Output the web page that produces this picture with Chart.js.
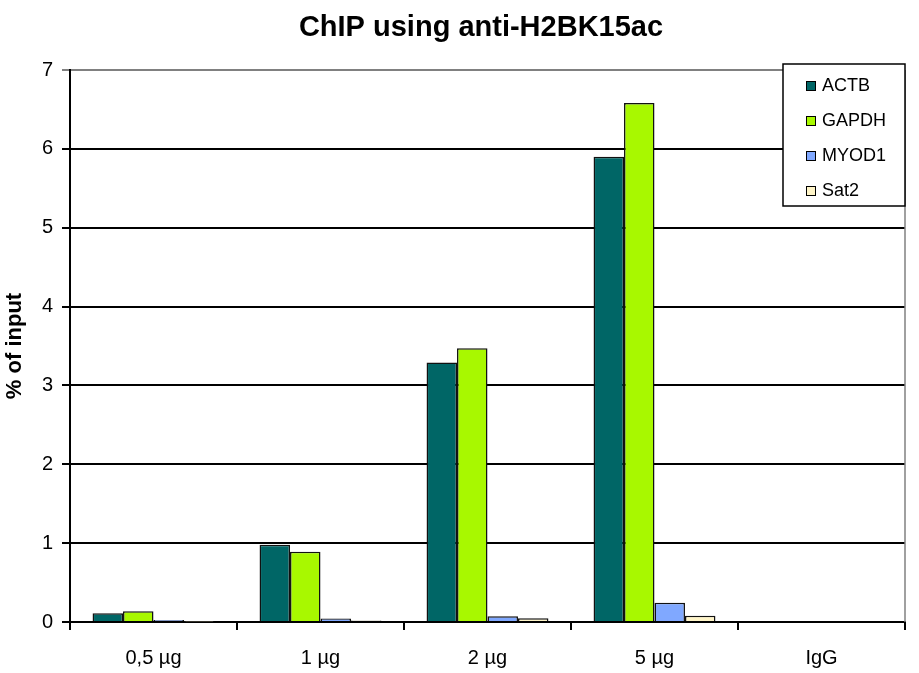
<!DOCTYPE html>
<html>
<head>
<meta charset="utf-8">
<script src="https://cdn.jsdelivr.net/npm/chart.js@4/dist/chart.umd.min.js"></script>
<style>
  html, body { margin: 0; padding: 0; background: #fff; }
  #wrap { width: 919px; height: 673px; }
</style>
</head>
<body>
<div id="wrap"><canvas id="c" width="919" height="673"></canvas></div>
<script>
const categories = ["0,5 µg", "1 µg", "2 µg", "5 µg", "IgG"];
const seriesNames = ["ACTB", "GAPDH", "MYOD1", "Sat2"];
const actb  = [0.11, 0.98, 3.29, 5.90, 0];
const gapdh = [0.135, 0.89, 3.47, 6.58, 0];
const myod1 = [0.025, 0.043, 0.072, 0.245, 0];
const sat2  = [0.004, 0.02, 0.047, 0.08, 0];
const yTicks = [0, 1, 2, 3, 4, 5, 6, 7];
const titleText = "ChIP using anti-H2BK15ac";
const yTitleText = "% of input";

const colors = ["#006666", "#A8F800", "#80A8FF", "#FFF5C8"];
const FONT = "'Liberation Sans', Arial, sans-serif";

const chartTitle = {
  id: 'chartTitle',
  afterDraw(chart) {
    const ctx = chart.ctx;
    ctx.save();
    ctx.font = "bold 29px " + FONT;
    ctx.fillStyle = '#000';
    ctx.textAlign = 'center';
    ctx.textBaseline = 'alphabetic';
    ctx.fillText(titleText, 481, 36);
    ctx.restore();
  }
};

const legendBox = {
  id: 'legendBox',
  afterDraw(chart) {
    const ctx = chart.ctx;
    const ca = chart.chartArea;
    const right = ca.right, left = right - 122, top = 64, bottom = 206;
    ctx.save();
    ctx.fillStyle = '#fff';
    ctx.fillRect(left, top, right - left, bottom - top);
    ctx.strokeStyle = '#000';
    ctx.lineWidth = 1.5;
    ctx.strokeRect(left, top, right - left, bottom - top);
    ctx.font = "18px " + FONT;
    ctx.textBaseline = 'middle';
    ctx.textAlign = 'left';
    chart.data.datasets.forEach((ds, i) => {
      const cy = 86 + i * 35;
      ctx.fillStyle = ds.backgroundColor;
      ctx.fillRect(left + 23, cy - 5, 10, 10);
      ctx.strokeStyle = '#000';
      ctx.lineWidth = 1;
      ctx.strokeRect(left + 23.5, cy - 4.5, 9, 9);
      ctx.fillStyle = '#000';
      ctx.fillText(ds.label, left + 39, cy);
    });
    ctx.restore();
  }
};

const plotBorder = {
  id: 'plotBorder',
  beforeDatasetsDraw(chart) {
    const ctx = chart.ctx;
    const ca = chart.chartArea;
    ctx.save();
    ctx.strokeStyle = '#808080';
    ctx.lineWidth = 1.5;
    ctx.beginPath();
    ctx.moveTo(ca.right, ca.top);
    ctx.lineTo(ca.right, ca.bottom);
    ctx.stroke();
    ctx.restore();
  }
};

new Chart(document.getElementById('c'), {
  type: 'bar',
  data: {
    labels: categories,
    datasets: [
      { label: seriesNames[0], data: actb,  backgroundColor: colors[0] },
      { label: seriesNames[1], data: gapdh, backgroundColor: colors[1] },
      { label: seriesNames[2], data: myod1, backgroundColor: colors[2] },
      { label: seriesNames[3], data: sat2,  backgroundColor: colors[3] }
    ].map(d => Object.assign(d, { borderColor: '#111', borderWidth: 1.5, categoryPercentage: 0.73, barPercentage: 1 }))
  },
  options: {
    responsive: false,
    animation: false,
    devicePixelRatio: 1,
    layout: { padding: { top: 70, right: 14, left: 0, bottom: 0 } },
    plugins: {
      legend: { display: false },
      tooltip: { enabled: false },
      title: { display: false }
    },
    scales: {
      x: {
        grid: { offset: true, drawOnChartArea: false, drawTicks: true, tickLength: 8, color: '#000', lineWidth: 2 },
        border: { display: true, color: '#000', width: 2 },
        ticks: { color: '#000', font: { family: FONT, size: 20 }, padding: 16, maxRotation: 0 },
        afterFit(s) { s.height = 51; }
      },
      y: {
        min: 0, max: 7,
        afterBuildTicks(s) { s.ticks = yTicks.map(v => ({ value: v })); },
        grid: {
          color: c => (c.tick && c.tick.value === 7) ? '#808080' : '#000',
          lineWidth: 2, tickLength: 8, drawTicks: true
        },
        border: { display: true, color: '#000', width: 2 },
        ticks: { color: '#000', font: { family: FONT, size: 20 }, padding: 9 },
        title: {
          display: true, text: yTitleText, color: '#000',
          font: { family: FONT, size: 22, weight: 'bold' },
          padding: { top: 2, bottom: 0 }
        },
        afterFit(s) { s.width = 70; }
      }
    }
  },
  plugins: [plotBorder, legendBox, chartTitle]
});
</script>
</body>
</html>
